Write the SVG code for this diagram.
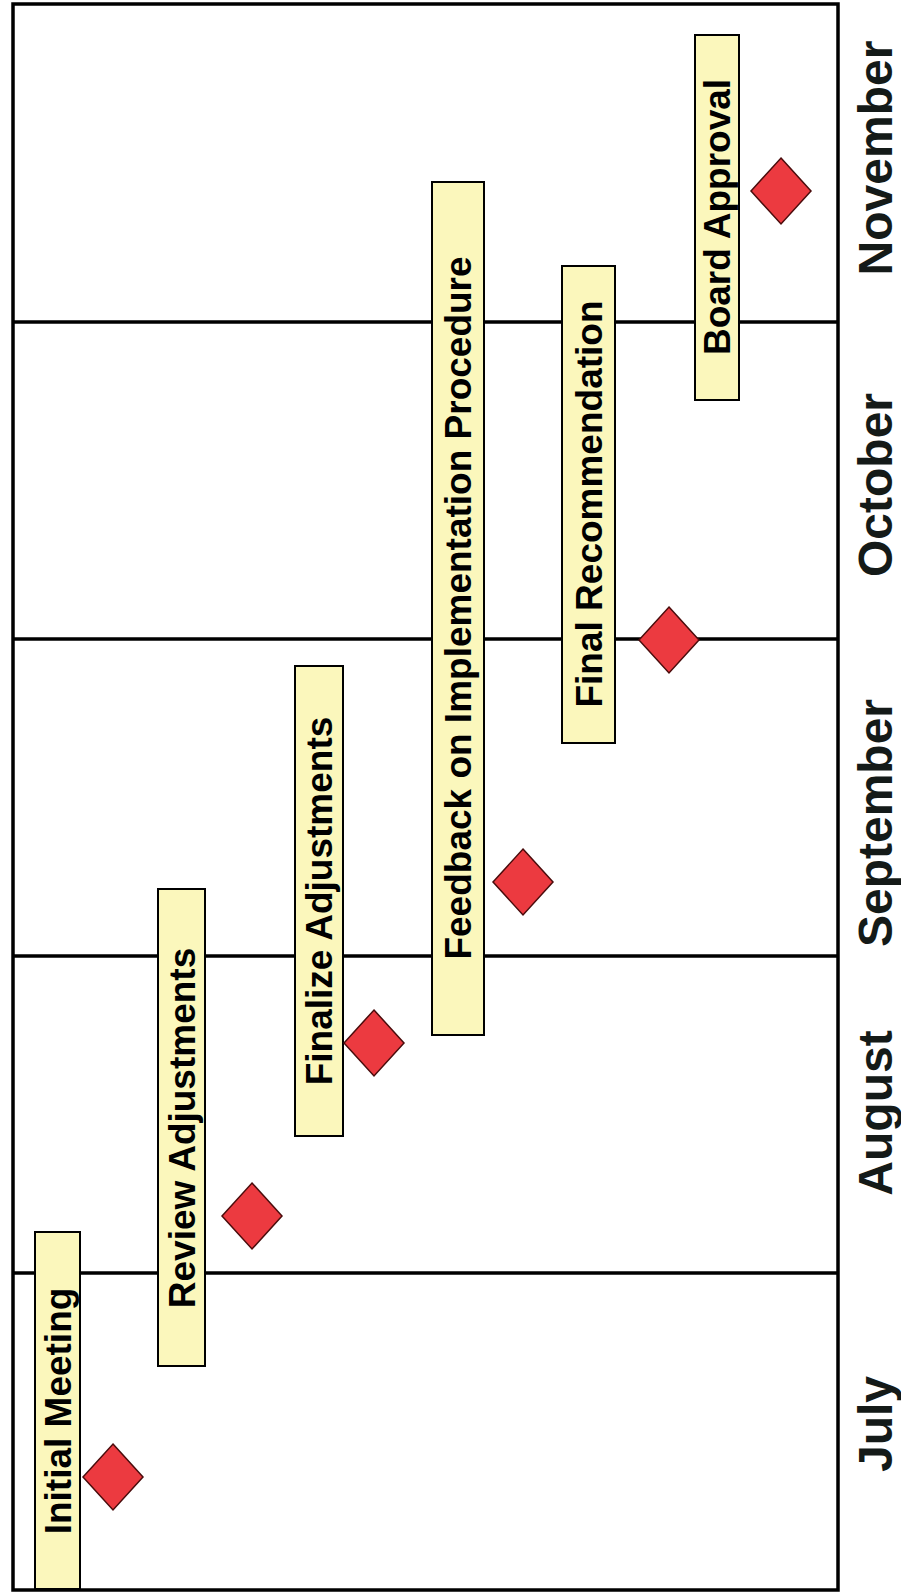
<svg xmlns="http://www.w3.org/2000/svg" width="901" height="1595" viewBox="0 0 901 1595">
<style>
.frame{fill:#fff;stroke:#000;stroke-width:3.5}
.div{stroke:#000;stroke-width:3.5}
.box{fill:#FBF7BC;stroke:#000;stroke-width:2}
.lbl{font-family:"Liberation Sans",Arial,sans-serif;font-weight:bold;font-size:37px;fill:#000;text-anchor:middle}
.month{font-family:"Liberation Sans",Arial,sans-serif;font-weight:bold;font-size:48px;fill:#141a18;text-anchor:middle}
.ms{fill:#EC3A40;stroke:#4a0c0c;stroke-width:1.5}
</style>
<defs>
<polygon id="dia" class="ms" points="0,-33 30,0 0,33 -30,0"/>
</defs>
<rect x="0" y="0" width="901" height="1595" fill="#fff"/>
<g id="frame">
<rect class="frame" x="13" y="4" width="825" height="1586"/>
</g>
<g id="connectors">
<line class="div" x1="13" y1="322" x2="838" y2="322"/>
<line class="div" x1="13" y1="639" x2="838" y2="639"/>
<line class="div" x1="13" y1="956" x2="838" y2="956"/>
<line class="div" x1="13" y1="1273" x2="838" y2="1273"/>
</g>
<g id="months">
<text class="month" transform="translate(892,1424) rotate(-90)">July</text>
<text class="month" transform="translate(892,1113) rotate(-90)">August</text>
<text class="month" transform="translate(892,823) rotate(-90)">September</text>
<text class="month" transform="translate(892,485) rotate(-90)">October</text>
<text class="month" transform="translate(892,158) rotate(-90)">November</text>
</g>
<g id="task-initial-meeting">
<rect class="box" x="35" y="1232" width="45" height="357"/>
<text class="lbl" transform="translate(70.5,1411) rotate(-90)">Initial Meeting</text>
</g>
<g id="task-review-adjustments">
<rect class="box" x="158" y="889" width="47" height="477"/>
<text class="lbl" transform="translate(194.5,1128) rotate(-90)">Review Adjustments</text>
</g>
<g id="task-finalize-adjustments">
<rect class="box" x="295" y="666" width="48" height="470"/>
<text class="lbl" transform="translate(332,901) rotate(-90)">Finalize Adjustments</text>
</g>
<g id="task-feedback">
<rect class="box" x="432" y="182" width="52" height="853"/>
<text class="lbl" transform="translate(471,608) rotate(-90)">Feedback on Implementation Procedure</text>
</g>
<g id="task-final-recommendation">
<rect class="box" x="562" y="266" width="53" height="477"/>
<text class="lbl" transform="translate(601.5,504) rotate(-90)">Final Recommendation</text>
</g>
<g id="task-board-approval">
<rect class="box" x="695" y="35" width="44" height="365"/>
<text class="lbl" transform="translate(730,217) rotate(-90)">Board Approval</text>
</g>
<g id="milestones">
<use href="#dia" x="113" y="1477"/>
<use href="#dia" x="252" y="1216"/>
<use href="#dia" x="374" y="1043"/>
<use href="#dia" x="523" y="882"/>
<use href="#dia" x="669" y="640"/>
<use href="#dia" x="781" y="191"/>
</g>
</svg>
